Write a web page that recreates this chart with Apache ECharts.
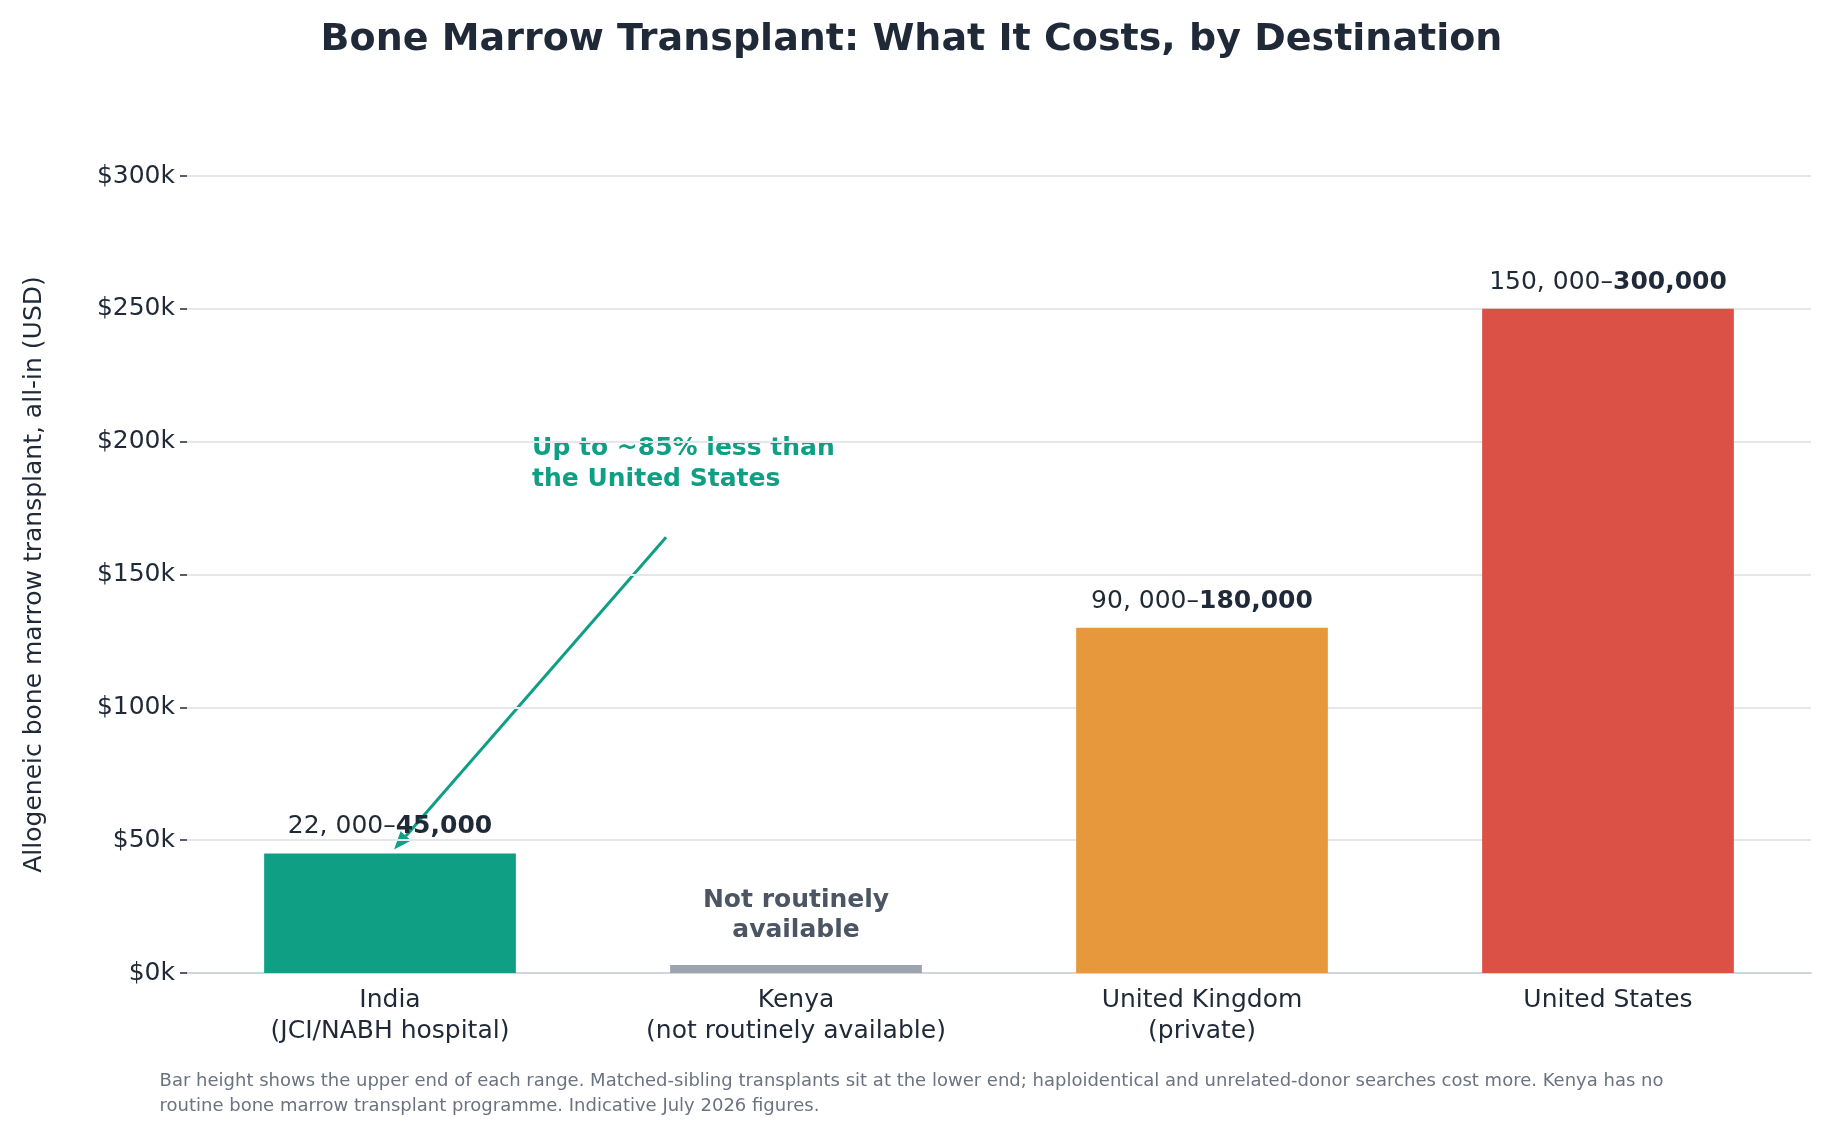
<!DOCTYPE html>
<html>
<head>
<meta charset="utf-8">
<script src="https://cdn.jsdelivr.net/npm/echarts@6/dist/echarts.min.js"></script>
<style>html,body{margin:0;padding:0;background:#fff}#chart{width:1823px;height:1129px}</style>
</head>
<body>
<div id="chart"></div>
<script>
var categories = ['India\n(JCI/NABH hospital)', 'Kenya\n(not routinely available)', 'United Kingdom\n(private)', 'United States'];
var barValues = [45000, 3000, 130000, 250000];
var rangeLow = ['22, 000–', '', '90, 000–', '150, 000–'];
var rangeHigh = ['45,000', '', '180,000', '300,000'];
var barColors = ['#0e9f84', '#9ca3af', '#e8983c', '#dc5146'];
var yTicks = [0, 50000, 100000, 150000, 200000, 250000, 300000];

var font = 'DejaVu Sans';
var chart = echarts.init(document.getElementById('chart'));

var data = barValues.map(function (v, i) {
    var lbl;
    if (i === 1) {
        lbl = { show: true, position: 'top', distance: 20, formatter: 'Not routinely\navailable',
            color: '#4b5563', fontWeight: 'bold', fontSize: 25, lineHeight: 30, fontFamily: font };
    } else {
        lbl = { show: true, position: 'top', distance: 14,
            formatter: '{n|' + rangeLow[i] + '}{b|' + rangeHigh[i] + '}',
            rich: {
                n: { color: '#1f2937', fontSize: 25, fontFamily: font },
                b: { color: '#1f2937', fontSize: 25, fontWeight: 'bold', fontFamily: font }
            } };
    }
    return { value: v, itemStyle: { color: barColors[i] }, label: lbl };
});

var option = {
    animation: false,
    title: {
        text: 'Bone Marrow Transplant: What It Costs, by Destination',
        left: 'center', top: 16,
        textStyle: { fontSize: 38, fontWeight: 'bold', color: '#1f2937', fontFamily: font }
    },
    grid: { left: 187, right: 12, top: 176, bottom: 156 },
    xAxis: {
        type: 'category',
        data: categories,
        axisLine: { lineStyle: { color: '#d1d5db', width: 2 } },
        axisTick: { show: false },
        axisLabel: { color: '#1f2937', fontSize: 25, lineHeight: 31, margin: 12, fontFamily: font }
    },
    yAxis: {
        type: 'value',
        min: 0, max: 300000, interval: 50000,
        name: 'Allogeneic bone marrow transplant, all-in (USD)',
        nameLocation: 'middle', nameGap: 140, nameRotate: 90,
        nameTextStyle: { color: '#1f2937', fontSize: 25, fontFamily: font },
        axisLine: { show: false },
        axisTick: { show: true, length: 7, lineStyle: { color: '#1f2937', width: 1.5 } },
        splitLine: { lineStyle: { color: '#e5e7eb', width: 2 } },
        axisLabel: { color: '#1f2937', fontSize: 25, margin: 12, fontFamily: font,
            formatter: function (v) { return yTicks.indexOf(v) >= 0 ? '$' + (v / 1000) + 'k' : ''; } }
    },
    series: [{
        type: 'bar',
        barWidth: '62%',
        data: data
    }],
    graphic: [{
        type: 'text', left: 'center', bottom: 10,
        style: {
            text: 'Bar height shows the upper end of each range. Matched-sibling transplants sit at the lower end; haploidentical and unrelated-donor searches cost more. Kenya has no\nroutine bone marrow transplant programme. Indicative July 2026 figures.',
            fill: '#6b7280', fontSize: 18, lineHeight: 25, align: 'center', fontFamily: font
        }
    }]
};
chart.setOption(option);

// annotation arrow, positioned from data coordinates
function px(xIdx, yVal) {
    var a = chart.convertToPixel({ xAxisIndex: 0 }, categories[0]);
    var b = chart.convertToPixel({ xAxisIndex: 0 }, categories[1]);
    return [a + (b - a) * xIdx, chart.convertToPixel({ yAxisIndex: 0 }, yVal)];
}
var tail = px(0.68, 164000);
var tip = px(0.01, 46500);
var ang = Math.atan2(tip[1] - tail[1], tip[0] - tail[0]);
var hl = 18, hw = 7;
var back = [tip[0] - hl * Math.cos(ang), tip[1] - hl * Math.sin(ang)];
var head = [tip,
    [back[0] + hw * Math.sin(ang), back[1] - hw * Math.cos(ang)],
    [back[0] - hw * Math.sin(ang), back[1] + hw * Math.cos(ang)]];
var txt = px(0.35, 180000);
chart.setOption({
    graphic: [option.graphic[0], {
        type: 'line', shape: { x1: tail[0], y1: tail[1], x2: back[0], y2: back[1] },
        style: { stroke: '#0e9f84', lineWidth: 3 }
    }, {
        type: 'polygon', shape: { points: head }, style: { fill: '#0e9f84' }
    }, {
        type: 'text', x: txt[0], y: txt[1],
        style: { text: 'Up to ~85% less than\nthe United States', fill: '#0e9f84', fontSize: 25,
            fontWeight: 'bold', lineHeight: 31, fontFamily: font, verticalAlign: 'bottom' }
    }]
});
</script>
</body>
</html>
